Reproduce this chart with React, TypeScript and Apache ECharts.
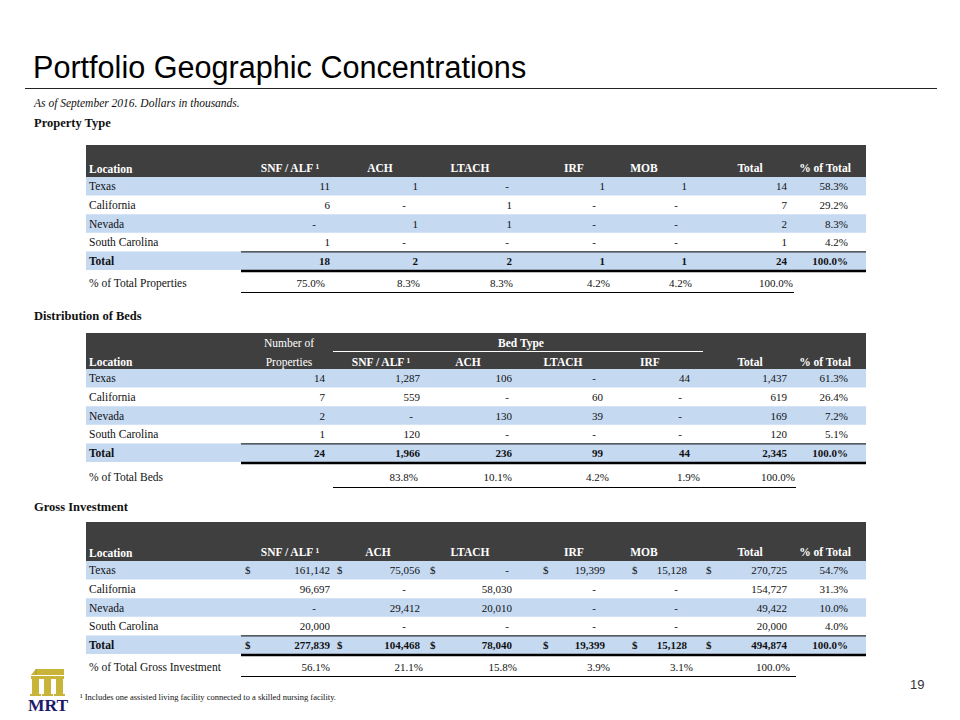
import React, { useEffect, useRef } from "react";
import * as echarts from "echarts";

// ---------------- DATA ----------------
const locations = ["Texas", "California", "Nevada", "South Carolina"];

// Property Type
const propHeaders = ["SNF / ALF ¹", "ACH", "LTACH", "IRF", "MOB", "Total", "% of Total"];
const propSNF = [11, 6, 0, 1];
const propACH = [1, 0, 1, 0];
const propLTACH = [0, 1, 1, 0];
const propIRF = [1, 0, 0, 0];
const propMOB = [1, 0, 0, 0];
const propTotal = [14, 7, 2, 1];
const propPct = [58.3, 29.2, 8.3, 4.2];
const propTotalsRow = [18, 2, 2, 1, 1, 24];
const propTotalsPct = 100.0;
const propShareOfTotal = [75.0, 8.3, 8.3, 4.2, 4.2, 100.0];

// Distribution of Beds
const bedHeaders = ["Properties", "SNF / ALF ¹", "ACH", "LTACH", "IRF", "Total", "% of Total"];
const bedNumProps = [14, 7, 2, 1];
const bedSNF = [1287, 559, 0, 120];
const bedACH = [106, 0, 130, 0];
const bedLTACH = [0, 60, 39, 0];
const bedIRF = [44, 0, 0, 0];
const bedTotal = [1437, 619, 169, 120];
const bedPct = [61.3, 26.4, 7.2, 5.1];
const bedTotalsRow = [24, 1966, 236, 99, 44, 2345];
const bedTotalsPct = 100.0;
const bedShareOfTotal = [83.8, 10.1, 4.2, 1.9, 100.0];

// Gross Investment (dollars in thousands)
const invHeaders = ["SNF / ALF ¹", "ACH", "LTACH", "IRF", "MOB", "Total", "% of Total"];
const invSNF = [161142, 96697, 0, 20000];
const invACH = [75056, 0, 29412, 0];
const invLTACH = [0, 58030, 20010, 0];
const invIRF = [19399, 0, 0, 0];
const invMOB = [15128, 0, 0, 0];
const invTotal = [270725, 154727, 49422, 20000];
const invPct = [54.7, 31.3, 10.0, 4.0];
const invTotalsRow = [277839, 104468, 78040, 19399, 15128, 494874];
const invTotalsPct = 100.0;
const invShareOfTotal = [56.1, 21.1, 15.8, 3.9, 3.1, 100.0];

// ---------------- STYLE ----------------
const SERIF = "Liberation Serif, serif";
const SANS = "Liberation Sans, Arial, sans-serif";
const BAND = "#3f3f3f";
const BLUE = "#c5d9f1";
const TXT = "#111111";
const TABLE_L = 86;
const TABLE_R = 866;
const LABEL_X = 89;
const RULE_L = 241;
const ROW_H = 18.6;
const FS = 11;
const LFS = 11.5;

const fmtNum = (v: number) => (v === 0 ? "-" : v.toLocaleString("en-US"));
const fmtPct = (v: number) => v.toFixed(1) + "%";

function txt(text: string, x: number, y: number, opts: any = {}) {
  return {
    type: "text",
    x,
    y,
    silent: true,
    style: {
      text,
      fill: opts.fill || TXT,
      fontFamily: opts.fontFamily || SERIF,
      fontSize: opts.fontSize || FS,
      fontWeight: opts.fontWeight || "normal",
      fontStyle: opts.fontStyle || "normal",
      align: opts.align || "left",
      verticalAlign: opts.verticalAlign || "middle",
    },
  };
}
function rect(x: number, y: number, w: number, h: number, fill: string) {
  return { type: "rect", silent: true, shape: { x, y, width: w, height: h }, style: { fill } };
}
function line(x1: number, y1: number, x2: number, y2: number, stroke: string, lw: number) {
  return { type: "line", silent: true, shape: { x1, y1, x2, y2 }, style: { stroke, lineWidth: lw } };
}

type Spec = {
  rowTop: number;
  colRight: number[];
  dashOff: number[];
  dollarX?: number[];
  cols: number[][];
  pct: number[];
  totals: number[];
  totalPct: number;
  shareLabel: string;
  share: number[];
  shareRight: number[];
  shareY: number;
  shareRuleL: number;
  shareRuleR: number;
  shareRuleY: number;
};

function tableBody(s: Spec) {
  const els: any[] = [];
  const n = locations.length;
  const pctCol = s.colRight[s.colRight.length - 1];
  for (let i = 0; i <= n; i++) {
    if (i % 2 === 0) els.push(rect(TABLE_L, s.rowTop + i * ROW_H, TABLE_R - TABLE_L, ROW_H, BLUE));
  }
  locations.forEach((loc, i) => {
    const cy = s.rowTop + i * ROW_H + ROW_H / 2;
    els.push(txt(loc, LABEL_X, cy, { fontSize: LFS }));
    s.cols.forEach((col, j) => {
      const v = col[i];
      const r = s.colRight[j];
      els.push(txt(fmtNum(v), v === 0 ? r - s.dashOff[j] : r, cy, { align: "right" }));
      if (s.dollarX && i === 0) els.push(txt("$", s.dollarX[j], cy));
    });
    els.push(txt(fmtPct(s.pct[i]), pctCol, cy, { align: "right" }));
  });
  const ty = s.rowTop + n * ROW_H + ROW_H / 2;
  els.push(txt("Total", LABEL_X, ty, { fontWeight: "bold", fontSize: LFS }));
  s.totals.forEach((v, j) => {
    els.push(txt(fmtNum(v), s.colRight[j], ty, { align: "right", fontWeight: "bold" }));
    if (s.dollarX) els.push(txt("$", s.dollarX[j], ty, { fontWeight: "bold" }));
  });
  els.push(txt(fmtPct(s.totalPct), pctCol, ty, { align: "right", fontWeight: "bold" }));
  els.push(line(RULE_L, s.rowTop + n * ROW_H + 0.5, TABLE_R, s.rowTop + n * ROW_H + 0.5, "#000", 1));
  els.push(line(RULE_L, s.rowTop + (n + 1) * ROW_H + 1, TABLE_R, s.rowTop + (n + 1) * ROW_H + 1, "#000", 2.5));
  els.push(txt(s.shareLabel, LABEL_X, s.shareY, { fontSize: LFS }));
  s.share.forEach((v, j) => {
    els.push(txt(fmtPct(v), s.shareRight[j], s.shareY, { align: "right" }));
  });
  els.push(line(s.shareRuleL, s.shareRuleY, s.shareRuleR, s.shareRuleY, "#000", 1));
  return els;
}

function buildElements() {
  const els: any[] = [];
  els.push(txt("Portfolio Geographic Concentrations", 33, 67, { fontFamily: SANS, fontSize: 30.6, fill: "#000" }));
  els.push(line(25, 88.5, 937, 88.5, "#222", 1));
  els.push(txt("As of September 2016. Dollars in thousands.", 34, 103, { fontStyle: "italic", fontSize: 11.5 }));

  // ---------- Table 1: Property Type ----------
  els.push(txt("Property Type", 34, 123, { fontWeight: "bold", fontSize: 12.5 }));
  els.push(rect(TABLE_L, 145, TABLE_R - TABLE_L, 32, BAND));
  const hc1 = [290, 380, 470, 574, 644, 750, 825];
  els.push(txt("Location", LABEL_X, 169, { fill: "#fff", fontWeight: "bold", fontSize: LFS }));
  propHeaders.forEach((h, j) =>
    els.push(txt(h, hc1[j], 168, { fill: "#fff", fontWeight: "bold", align: "center", fontSize: LFS }))
  );
  els.push(
    ...tableBody({
      rowTop: 177,
      colRight: [330, 418, 512, 605, 687, 787, 848],
      dashOff: [14, 12, 3, 9, 9, 9],
      cols: [propSNF, propACH, propLTACH, propIRF, propMOB, propTotal],
      pct: propPct,
      totals: propTotalsRow,
      totalPct: propTotalsPct,
      shareLabel: "% of Total Properties",
      share: propShareOfTotal,
      shareRight: [325, 420, 513, 610, 692, 793],
      shareY: 283,
      shareRuleL: RULE_L,
      shareRuleR: 794,
      shareRuleY: 292.5,
    })
  );

  // ---------- Table 2: Distribution of Beds ----------
  els.push(txt("Distribution of Beds", 34, 316, { fontWeight: "bold", fontSize: 12.5 }));
  els.push(rect(TABLE_L, 333, TABLE_R - TABLE_L, 36, BAND));
  els.push(txt("Number of", 289, 343, { fill: "#fff", align: "center", fontSize: LFS }));
  els.push(txt("Bed Type", 521, 343, { fill: "#fff", fontWeight: "bold", align: "center", fontSize: LFS }));
  els.push(line(333, 351.5, 703, 351.5, "#fff", 1));
  const hc2 = [289, 381, 468, 563, 650, 750, 825];
  els.push(txt("Location", LABEL_X, 362, { fill: "#fff", fontWeight: "bold", fontSize: LFS }));
  bedHeaders.forEach((h, j) =>
    els.push(
      txt(h, hc2[j], 362, { fill: "#fff", fontWeight: j === 0 ? "normal" : "bold", align: "center", fontSize: LFS })
    )
  );
  els.push(
    ...tableBody({
      rowTop: 369,
      colRight: [325, 420, 512, 603, 690, 787, 848],
      dashOff: [8, 7, 3, 7, 8, 8],
      cols: [bedNumProps, bedSNF, bedACH, bedLTACH, bedIRF, bedTotal],
      pct: bedPct,
      totals: bedTotalsRow,
      totalPct: bedTotalsPct,
      shareLabel: "% of Total Beds",
      share: bedShareOfTotal,
      shareRight: [418, 512, 609, 700, 795],
      shareY: 477,
      shareRuleL: 333,
      shareRuleR: 796,
      shareRuleY: 487.5,
    })
  );

  // ---------- Table 3: Gross Investment ----------
  els.push(txt("Gross Investment", 34, 507, { fontWeight: "bold", fontSize: 12.5 }));
  els.push(rect(TABLE_L, 522, TABLE_R - TABLE_L, 39, BAND));
  const hc3 = [290, 378, 470, 574, 644, 750, 825];
  els.push(txt("Location", LABEL_X, 553, { fill: "#fff", fontWeight: "bold", fontSize: LFS }));
  invHeaders.forEach((h, j) =>
    els.push(txt(h, hc3[j], 552, { fill: "#fff", fontWeight: "bold", align: "center", fontSize: LFS }))
  );
  els.push(
    ...tableBody({
      rowTop: 561,
      colRight: [330, 420, 512, 605, 687, 787, 848],
      dashOff: [14, 14, 3, 9, 9, 9],
      dollarX: [245, 337, 430, 543, 632, 706],
      cols: [invSNF, invACH, invLTACH, invIRF, invMOB, invTotal],
      pct: invPct,
      totals: invTotalsRow,
      totalPct: invTotalsPct,
      shareLabel: "% of Total Gross Investment",
      share: invShareOfTotal,
      shareRight: [330, 423, 517, 610, 693, 790],
      shareY: 667,
      shareRuleL: RULE_L,
      shareRuleR: 796,
      shareRuleY: 676.5,
    })
  );

  els.push(
    txt("¹ Includes one assisted living facility connected to a skilled nursing facility.", 80, 697, { fontSize: 8.5 })
  );
  els.push(txt("19", 910, 684, { fontFamily: SANS, fontSize: 13, fill: "#333" }));

  // logo
  const gold = "#c9b43a";
  els.push({
    type: "polygon",
    silent: true,
    shape: { points: [[31, 675], [36, 669], [64, 669], [64, 675]] },
    style: { fill: gold },
  });
  els.push(line(36, 669, 36, 675, "#a8962a", 1));
  els.push(rect(31, 676, 33, 3, gold));
  els.push(rect(32, 679, 7, 17, gold));
  els.push(rect(44, 679, 7, 17, gold));
  els.push(rect(56, 679, 7, 17, gold));
  els.push(rect(30, 694, 11, 2, gold));
  els.push(rect(42, 694, 11, 2, gold));
  els.push(rect(54, 694, 11, 2, gold));
  els.push(txt("MRT", 48, 705, { fontSize: 17.5, fontWeight: "bold", fill: "#1c1a6b", align: "center" }));

  return els;
}

export default function App() {
  const ref = useRef<HTMLDivElement>(null);
  useEffect(() => {
    if (!ref.current) return;
    const chart = echarts.init(ref.current, undefined, { renderer: "svg" });
    chart.setOption({
      animation: false,
      backgroundColor: "#ffffff",
      graphic: { elements: buildElements() },
    });
    return () => chart.dispose();
  }, []);
  return (
    <div
      ref={ref}
      style={{ position: "fixed", left: 0, top: 0, width: 960, height: 720, background: "#fff" }}
    />
  );
}
